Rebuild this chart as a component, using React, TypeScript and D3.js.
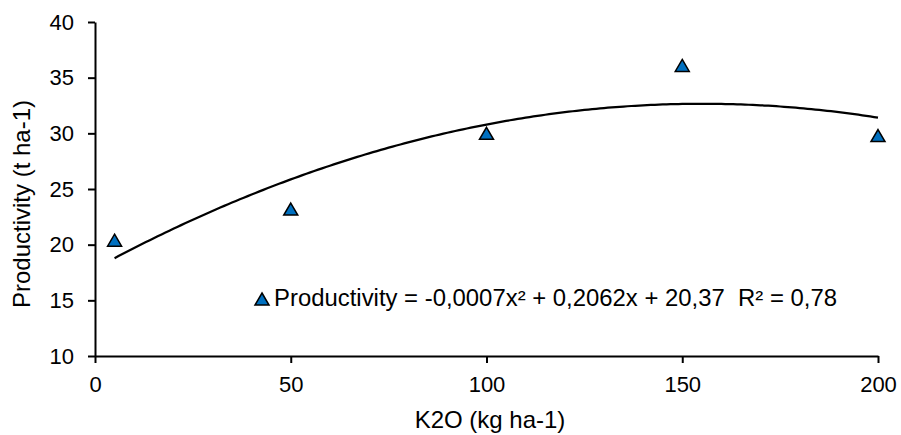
import React, { useEffect, useRef } from "react";
import { select, scaleLinear, axisBottom, axisLeft, line, range } from "d3";

const doses = [5, 50, 100, 150, 200];
const productivity = [20.4, 23.2, 30.0, 36.1, 29.8];

// trend curve as drawn (quadratic)
const trendCoef = [-0.000616, 0.191, 17.85];
const trendLabel = "Productivity = -0,0007x² + 0,2062x + 20,37  R² = 0,78";

const xTicks = [0, 50, 100, 150, 200];
const yTicks = [10, 15, 20, 25, 30, 35, 40];

const xTitle = "K2O (kg ha-1)";
const yTitle = "Productivity (t ha-1)";

const W = 901;
const H = 435;
const FONT = "'Liberation Sans', Arial, sans-serif";
const BLUE = "#0070C0";

const App = () => {
  const svgRef = useRef<SVGSVGElement | null>(null);

  useEffect(() => {
    const svg = select(svgRef.current);
    svg.selectAll("*").remove();

    const x = scaleLinear().domain([0, 200]).range([95, 878]);
    const y = scaleLinear().domain([10, 40]).range([356, 22]);

    const triangle = (w: number, h: number) =>
      `M0,${-h / 2}L${w / 2},${h / 2}L${-w / 2},${h / 2}Z`;

    // axes
    const gx = svg
      .append("g")
      .attr("transform", `translate(0,${y(10)})`)
      .call(axisBottom(x).tickValues(xTicks).tickSize(7).tickSizeOuter(0).tickPadding(13));
    const gy = svg
      .append("g")
      .attr("transform", `translate(${x(0)},0)`)
      .call(axisLeft(y).tickValues(yTicks).tickSize(7).tickSizeOuter(0).tickPadding(14));

    [gx, gy].forEach((g) => {
      g.select(".domain").attr("stroke", "#000").attr("stroke-width", 2);
      g.selectAll(".tick line").attr("stroke", "#000").attr("stroke-width", 2);
      g.selectAll(".tick text")
        .attr("fill", "#000")
        .style("font-family", FONT)
        .style("font-size", "22px");
    });

    // trend curve
    const trend = (v: number) => trendCoef[0] * v * v + trendCoef[1] * v + trendCoef[2];
    const xs = range(doses[0], doses[doses.length - 1] + 0.5, 1);
    svg
      .append("path")
      .datum(xs)
      .attr("fill", "none")
      .attr("stroke", "#000")
      .attr("stroke-width", 2.25)
      .attr(
        "d",
        line<number>()
          .x((d) => x(d))
          .y((d) => y(trend(d)))
      );

    // markers
    svg
      .append("g")
      .selectAll("path")
      .data(doses)
      .enter()
      .append("path")
      .attr("transform", (d, i) => `translate(${x(d)},${y(productivity[i])})`)
      .attr("d", triangle(14, 12))
      .attr("fill", BLUE)
      .attr("stroke", "#000")
      .attr("stroke-width", 1.5);

    // legend / equation
    svg
      .append("path")
      .attr("transform", "translate(262,299)")
      .attr("d", triangle(14, 12))
      .attr("fill", BLUE)
      .attr("stroke", "#000")
      .attr("stroke-width", 1.5);
    svg
      .append("text")
      .attr("x", 274)
      .attr("y", 306)
      .attr("textLength", 563)
      .attr("lengthAdjust", "spacingAndGlyphs")
      .style("white-space", "pre")
      .style("font-family", FONT)
      .style("font-size", "23px")
      .text(trendLabel);

    // axis titles
    svg
      .append("text")
      .attr("x", 490)
      .attr("y", 428)
      .attr("text-anchor", "middle")
      .style("font-family", FONT)
      .style("font-size", "24px")
      .text(xTitle);
    svg
      .append("text")
      .attr("transform", "translate(30,204) rotate(-90)")
      .attr("text-anchor", "middle")
      .style("font-family", FONT)
      .style("font-size", "24px")
      .text(yTitle);
  }, []);

  return (
    <svg
      ref={svgRef}
      width={W}
      height={H}
      style={{ position: "absolute", left: 0, top: 0, background: "#fff" }}
    ></svg>
  );
};

export default App;
